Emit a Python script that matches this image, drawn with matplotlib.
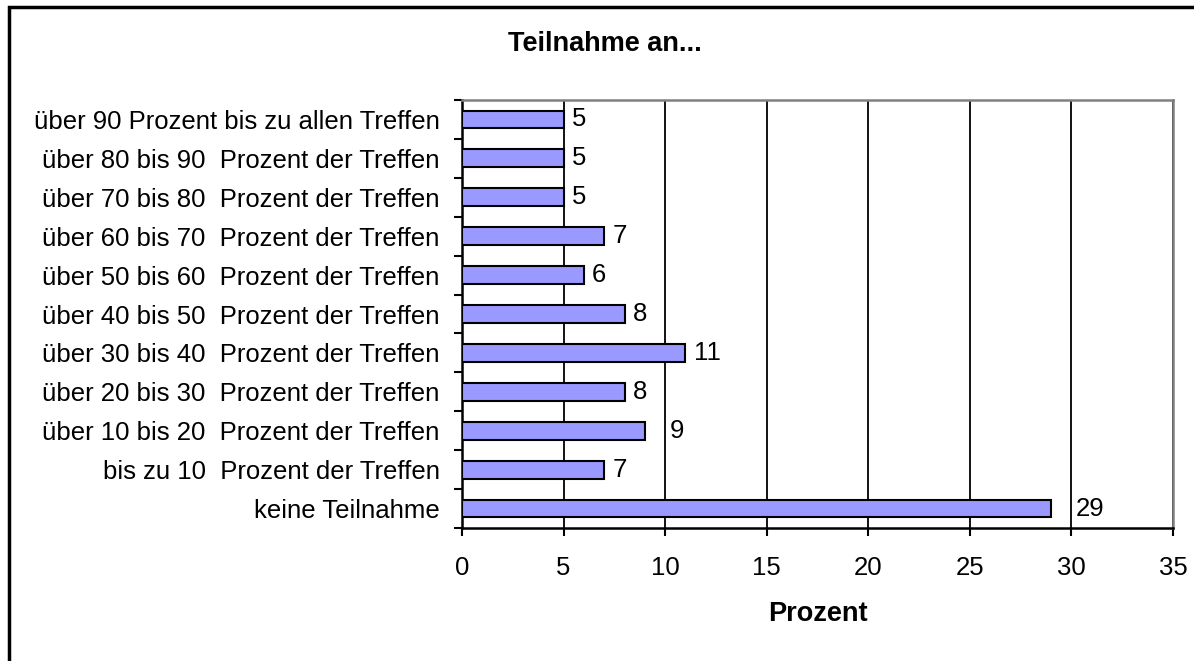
import matplotlib.pyplot as plt
from matplotlib.patches import Rectangle

plt.rcParams['font.family'] = ['Liberation Sans', 'DejaVu Sans']

# categories from bottom to top
kategorien = [
    "keine Teilnahme",
    "bis zu 10  Prozent der Treffen",
    "über 10 bis 20  Prozent der Treffen",
    "über 20 bis 30  Prozent der Treffen",
    "über 30 bis 40  Prozent der Treffen",
    "über 40 bis 50  Prozent der Treffen",
    "über 50 bis 60  Prozent der Treffen",
    "über 60 bis 70  Prozent der Treffen",
    "über 70 bis 80  Prozent der Treffen",
    "über 80 bis 90  Prozent der Treffen",
    "über 90 Prozent bis zu allen Treffen",
]
prozent = [29, 7, 9, 8, 11, 8, 6, 7, 5, 5, 5]
x_ticks = [0, 5, 10, 15, 20, 25, 30, 35]

FS = 18.5
FS_BOLD = 19.5

fig = plt.figure(figsize=(11.94, 6.61), dpi=100)
ax = fig.add_axes([462 / 1194, 1 - 528 / 661, 711 / 1194, 428 / 661])

pos = list(range(len(kategorien)))
ax.barh(pos, prozent, height=0.46, color="#9999FF", edgecolor="black",
        linewidth=1.5, zorder=3)

# some labels sit past the next gridline in the original
for p, v in zip(pos, prozent):
    dx = 18 if v in (9, 29) else 6
    ax.annotate(str(v), (v, p), xytext=(dx, 0), textcoords="offset points",
                va="center", ha="left", fontsize=FS, zorder=4)

ax.set_xlim(0, 35)
ax.set_ylim(-0.5, len(kategorien) - 0.5)
ax.set_xticks(x_ticks)
ax.set_xticklabels([str(t) for t in x_ticks], fontsize=FS)
ax.set_yticks(pos)
ax.set_yticklabels(kategorien, fontsize=FS)
ax.set_yticks([p + 0.5 for p in range(-1, len(kategorien))], minor=True)
ax.tick_params(axis="y", which="major", length=0, pad=16)
ax.tick_params(axis="y", which="minor", length=6, width=1.5, direction="out")
ax.tick_params(axis="x", length=6, width=1.5, direction="out", pad=14)

ax.grid(axis="x", color="black", linewidth=1.3, zorder=1)
for s in ["left", "bottom"]:
    ax.spines[s].set_color("black")
    ax.spines[s].set_linewidth(1.8)
for s in ["top", "right"]:
    ax.spines[s].set_color("#808080")
    ax.spines[s].set_linewidth(1.8)

ax.set_xlabel("Prozent", fontsize=FS_BOLD, fontweight="bold", labelpad=15)
fig.text(605 / 1194, 1 - 44 / 661, "Teilnahme an...", ha="center", va="center",
         fontsize=FS_BOLD, fontweight="bold")

# outer chart border
fig.patches.append(Rectangle((8.5 / 1194, -0.05), 1.1, 1 - 6.5 / 661 + 0.05,
                             transform=fig.transFigure, fill=False,
                             edgecolor="black", linewidth=2.5))

fig.savefig("out.png", dpi=100)
